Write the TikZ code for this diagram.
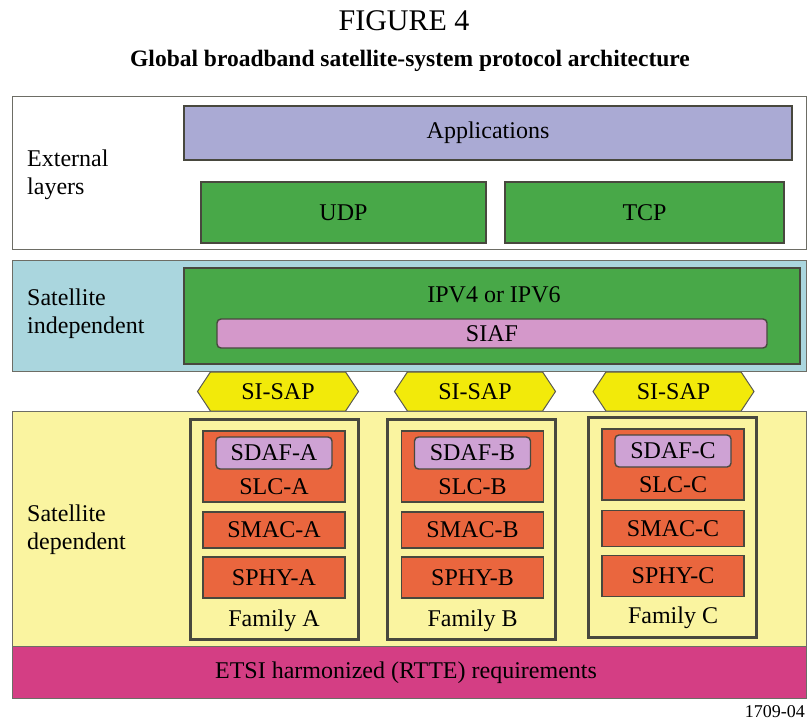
\documentclass[tikz,border=0pt]{standalone}
\usepackage{fontspec}
\setmainfont{Liberation Serif}
\usetikzlibrary{shapes.symbols}
\definecolor{appblue}{RGB}{170,170,212}
\definecolor{ipgreen}{RGB}{72,168,72}
\definecolor{indcyan}{RGB}{170,214,222}
\definecolor{siafpink}{RGB}{212,152,202}
\definecolor{sapyellow}{RGB}{242,234,10}
\definecolor{depyellow}{RGB}{250,244,160}
\definecolor{slcorange}{RGB}{234,102,62}
\definecolor{sdafpink}{RGB}{206,162,212}
\definecolor{etsired}{RGB}{212,62,132}
\definecolor{edgegray}{RGB}{72,72,62}
\begin{document}
\begin{tikzpicture}[x=1pt,y=-1pt,
  every node/.style={inner sep=0pt,font=\fontsize{24}{28}\selectfont},
  layer/.style={draw=edgegray!80,line width=1pt,minimum width=794pt},
  blk/.style={draw=edgegray,line width=1.4pt},
  fam/.style={draw=edgegray,line width=3pt,minimum width=168pt,minimum height=220pt},
  sapbox/.style={signal,signal to=east and west,signal pointer angle=113,
    draw=edgegray!90,line width=1pt,fill=sapyellow,minimum width=161pt,minimum height=39pt},
  lbl/.style={anchor=west,align=left}]
\useasboundingbox (0,0) rectangle (808,722);
% title
\node (fig) at (404,21) {\fontsize{30}{34}\selectfont FIGURE 4};
\node (title) at (410,61) {\fontsize{23.5}{28}\selectfont\bfseries Global broadband satellite-system protocol architecture};
% external layers
\node [layer,fill=white,minimum height=152pt] (ext) at (409,173) {};
\node [lbl] (extlbl) at (27,175) {External\\layers};
\node [blk,fill=appblue,minimum width=608pt,minimum height=54pt] (apps) at (488,133) {Applications};
\node [blk,fill=ipgreen,minimum width=285pt,minimum height=61pt] (udp) at (343.5,212.5) {UDP};
\node [blk,fill=ipgreen,minimum width=279pt,minimum height=61pt] (tcp) at (644.5,212.5) {TCP};
% satellite independent
\node [layer,fill=indcyan,minimum height=111pt] (ind) at (409,315.5) {};
\node [lbl] (indlbl) at (27,314) {Satellite\\independent};
\node [blk,fill=ipgreen,minimum width=616pt,minimum height=96pt] (ip) at (492,316) {};
\node (iptext) at (494,295) {IPV4 or IPV6};
\node [blk,fill=siafpink,rounded corners=4pt,minimum width=550pt,minimum height=29pt] (siaf) at (492,333.5) {SIAF};
% service access points
\node [sapbox] (sapa) at (278,391.5) {SI-SAP};
\node [sapbox] (sapb) at (475,391.5) {SI-SAP};
\node [sapbox] (sapc) at (673.5,391.5) {SI-SAP};
% satellite dependent
\node [layer,fill=depyellow,minimum height=235pt] (dep) at (409,529) {};
\node [lbl] (deplbl) at (27,530) {Satellite\\dependent};
\node [layer,fill=etsired,minimum height=52pt] (etsi) at (409,672.5) {};
\node (etsitext) at (406,673) {ETSI harmonized (RTTE) requirements};
% family A
\node [fam] (fama) at (274,529) {};
\node [blk,fill=slcorange,minimum width=142pt,minimum height=71pt] (slca) at (274,466.5) {};
\node [blk,fill=sdafpink,rounded corners=4pt,minimum width=116pt,minimum height=32pt] (sdafa) at (274,453) {SDAF-A};
\node (slcatext) at (274,487) {SLC-A};
\node [blk,fill=slcorange,minimum width=142pt,minimum height=36pt] (smaca) at (274,530) {SMAC-A};
\node [blk,fill=slcorange,minimum width=142pt,minimum height=41pt] (sphya) at (274,577.5) {SPHY-A};
\node (famatext) at (274,621) {Family A};
% family B
\node [fam] (famb) at (471.5,529) {};
\node [blk,fill=slcorange,minimum width=142pt,minimum height=71pt] (slcb) at (472.5,466.5) {};
\node [blk,fill=sdafpink,rounded corners=4pt,minimum width=116pt,minimum height=32pt] (sdafb) at (472.5,453) {SDAF-B};
\node (slcbtext) at (472.5,487) {SLC-B};
\node [blk,fill=slcorange,minimum width=142pt,minimum height=36pt] (smacb) at (472.5,530) {SMAC-B};
\node [blk,fill=slcorange,minimum width=142pt,minimum height=41pt] (sphyb) at (472.5,577.5) {SPHY-B};
\node (fambtext) at (472.5,621) {Family B};
% family C
\node [fam] (famc) at (672.5,527) {};
\node [blk,fill=slcorange,minimum width=142pt,minimum height=71pt] (slcc) at (673,464.5) {};
\node [blk,fill=sdafpink,rounded corners=4pt,minimum width=116pt,minimum height=32pt] (sdafc) at (673,451) {SDAF-C};
\node (slcctext) at (673,485) {SLC-C};
\node [blk,fill=slcorange,minimum width=142pt,minimum height=36pt] (smacc) at (673,528.5) {SMAC-C};
\node [blk,fill=slcorange,minimum width=142pt,minimum height=41pt] (sphyc) at (673,576) {SPHY-C};
\node (famctext) at (673,618) {Family C};
% figure number
\node [anchor=base east] (figno) at (805,717) {\fontsize{18}{20}\selectfont 1709-04};
\end{tikzpicture}
\end{document}
